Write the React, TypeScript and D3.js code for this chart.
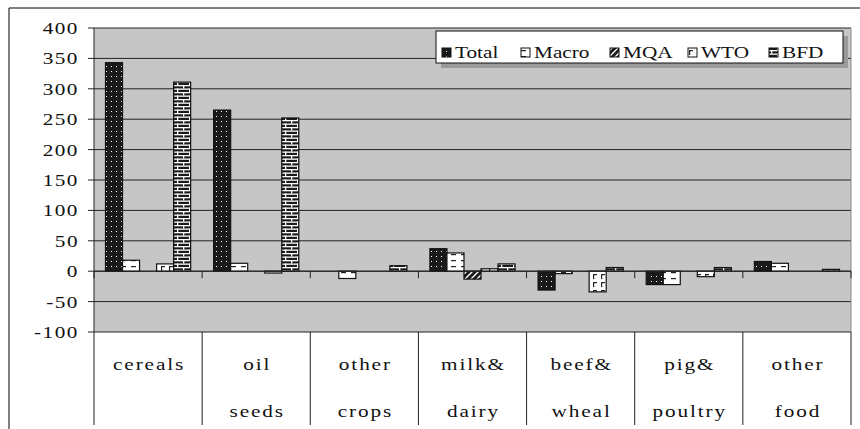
import React from "react";
import * as d3 from "d3";

const categories = [["cereals", ""], ["oil", "seeds"], ["other", "crops"], ["milk&", "dairy"], ["beef&", "wheal"], ["pig&", "poultry"], ["other", "food"]];
const seriesNames = ["Total", "Macro", "MQA", "WTO", "BFD"];
const totalVals = [343, 265, 0, 37, -31, -22, 16];
const macroVals = [18, 13, -12, 30, -4, -22, 13];
const mqaVals = [0, 0, 0, -13, 0, 0, 0];
const wtoVals = [12, -3, 0, 4, -34, -9, 0];
const bfdVals = [311, 252, 9, 12, 6, 6, 3];
const yTicks = [400, 350, 300, 250, 200, 150, 100, 50, 0, -50, -100];

const allSeries = [totalVals, macroVals, mqaVals, wtoVals, bfdVals];
const patIds = ["pTotal", "pMacro", "pMQA", "pWTO", "pBFD"];

const W = 860, H = 429;
const plotL = 94, plotR = 851, plotT = 28, plotB = 332;
const FONT = "'Liberation Serif', serif";
const SX = 1.25;

function T({ x, y, anchor, ls, children, size = 17 }: any) {
  return (
    <text transform={`translate(${x},${y}) scale(${SX},1)`} textAnchor={anchor} fontSize={size}
      letterSpacing={ls} fill="#111" style={{ fontFamily: FONT }}>{children}</text>
  );
}

export default function App() {
  const y = d3.scaleLinear().domain([-100, 400]).range([plotB, plotT]);
  const x0 = d3.scaleBand<number>().domain(d3.range(categories.length)).range([plotL, plotR]).paddingInner(0).paddingOuter(0);
  const groupW = x0.bandwidth() * (5 / 6.35);
  const x1 = d3.scaleBand<number>().domain(d3.range(5)).range([0, groupW]);
  const off = (x0.bandwidth() - groupW) / 2;

  const legendX = [442, 521, 610, 688, 769];

  return (
    <svg width={W} height={H} style={{ position: "fixed", left: 0, top: 0, background: "#fff" }}>
      <defs>
        <pattern id="pTotal" width={5} height={5} patternUnits="userSpaceOnUse">
          <rect width={5} height={5} fill="#1a1a1a" />
          <rect x={1} y={1} width={1} height={1} fill="#fff" />
        </pattern>
        <pattern id="pMacro" width={10} height={6} patternUnits="userSpaceOnUse">
          <rect width={10} height={6} fill="#fff" />
          <rect x={1} y={2} width={5} height={1.2} fill="#222" />
        </pattern>
        <pattern id="pMQA" width={6} height={6} patternUnits="userSpaceOnUse">
          <rect width={6} height={6} fill="#1a1a1a" />
          <path d="M0,6 L6,0 M-1,1 L1,-1 M5,7 L7,5" stroke="#fff" strokeWidth={1.4} />
        </pattern>
        <pattern id="pWTO" width={8} height={8} patternUnits="userSpaceOnUse">
          <rect width={8} height={8} fill="#fff" />
          <rect x={1} y={2} width={1.2} height={5} fill="#222" />
          <rect x={1} y={2} width={4} height={1.2} fill="#222" />
        </pattern>
        <pattern id="pBFD" width={12} height={7} patternUnits="userSpaceOnUse">
          <rect width={12} height={7} fill="#1a1a1a" />
          <rect x={0} y={1} width={12} height={1.3} fill="#fff" />
          <rect x={0} y={4.5} width={12} height={1.3} fill="#fff" />
          <rect x={3} y={1} width={1.3} height={3.5} fill="#fff" />
          <rect x={9} y={4.5} width={1.3} height={2.5} fill="#fff" />
          <rect x={9} y={0} width={1.3} height={1} fill="#fff" />
        </pattern>
      </defs>

      {/* outer frame */}
      <line x1={9} y1={8} x2={W} y2={8} stroke="#000" strokeWidth={1} />
      <line x1={9} y1={8} x2={9} y2={H} stroke="#000" strokeWidth={1} />

      {/* plot area */}
      <rect x={plotL} y={plotT} width={plotR - plotL} height={plotB - plotT} fill="#c6c6c6" />
      {yTicks.map((t) => (
        <g key={t}>
          <line x1={plotL} x2={plotR} y1={y(t)} y2={y(t)} stroke="#222" strokeWidth={1} />
          <line x1={plotL - 6} x2={plotL} y1={y(t)} y2={y(t)} stroke="#222" strokeWidth={1} />
          <T x={79} y={y(t) + 6} anchor="end" ls={1.2}>{t}</T>
        </g>
      ))}
      <line x1={plotR} x2={plotR} y1={plotT} y2={plotB} stroke="#888" strokeWidth={1} />

      {/* bars */}
      {allSeries.map((vals, si) =>
        vals.map((v, ci) => {
          if (v === 0) return null;
          const bx = (x0(ci) as number) + off + (x1(si) as number);
          const by = Math.min(y(v), y(0));
          const bh = Math.abs(y(v) - y(0));
          return (
            <rect key={`${si}-${ci}`} x={bx} y={by} width={x1.bandwidth()} height={bh}
              fill={`url(#${patIds[si]})`} stroke="#111" strokeWidth={1.2} />
          );
        })
      )}

      {/* zero axis & category ticks */}
      <line x1={plotL} x2={plotR} y1={y(0)} y2={y(0)} stroke="#222" strokeWidth={1} />
      {d3.range(categories.length + 1).map((i) => {
        const xx = plotL + i * x0.bandwidth();
        return <line key={i} x1={xx} x2={xx} y1={y(0)} y2={y(0) + 7} stroke="#222" strokeWidth={1} />;
      })}

      {/* y axis line */}
      <line x1={plotL} x2={plotL} y1={plotT} y2={H - 4} stroke="#222" strokeWidth={1} />

      {/* category table */}
      {d3.range(1, categories.length + 1).map((i) => {
        const xx = plotL + i * x0.bandwidth();
        return <line key={i} x1={xx} x2={xx} y1={plotB} y2={H - 4} stroke="#222" strokeWidth={1} />;
      })}
      {categories.map((c, i) => {
        const cx = (x0(i) as number) + x0.bandwidth() / 2 + 1;
        return (
          <g key={i}>
            <T x={cx} y={370} anchor="middle" ls={1.5}>{c[0]}</T>
            <T x={cx} y={417} anchor="middle" ls={1.5}>{c[1]}</T>
          </g>
        );
      })}

      {/* legend */}
      <rect x={441} y={36} width={407} height={32} fill="#9a9a9a" />
      <rect x={436} y={31} width={407} height={32} fill="#fff" stroke="#111" strokeWidth={1} />
      {seriesNames.map((s, i) => (
        <g key={s}>
          <rect x={legendX[i]} y={48} width={9} height={9} fill={`url(#${patIds[i]})`} stroke="#111" strokeWidth={1} />
          <T x={legendX[i] + 13} y={58} anchor="start" ls={0}>{s}</T>
        </g>
      ))}
    </svg>
  );
}
